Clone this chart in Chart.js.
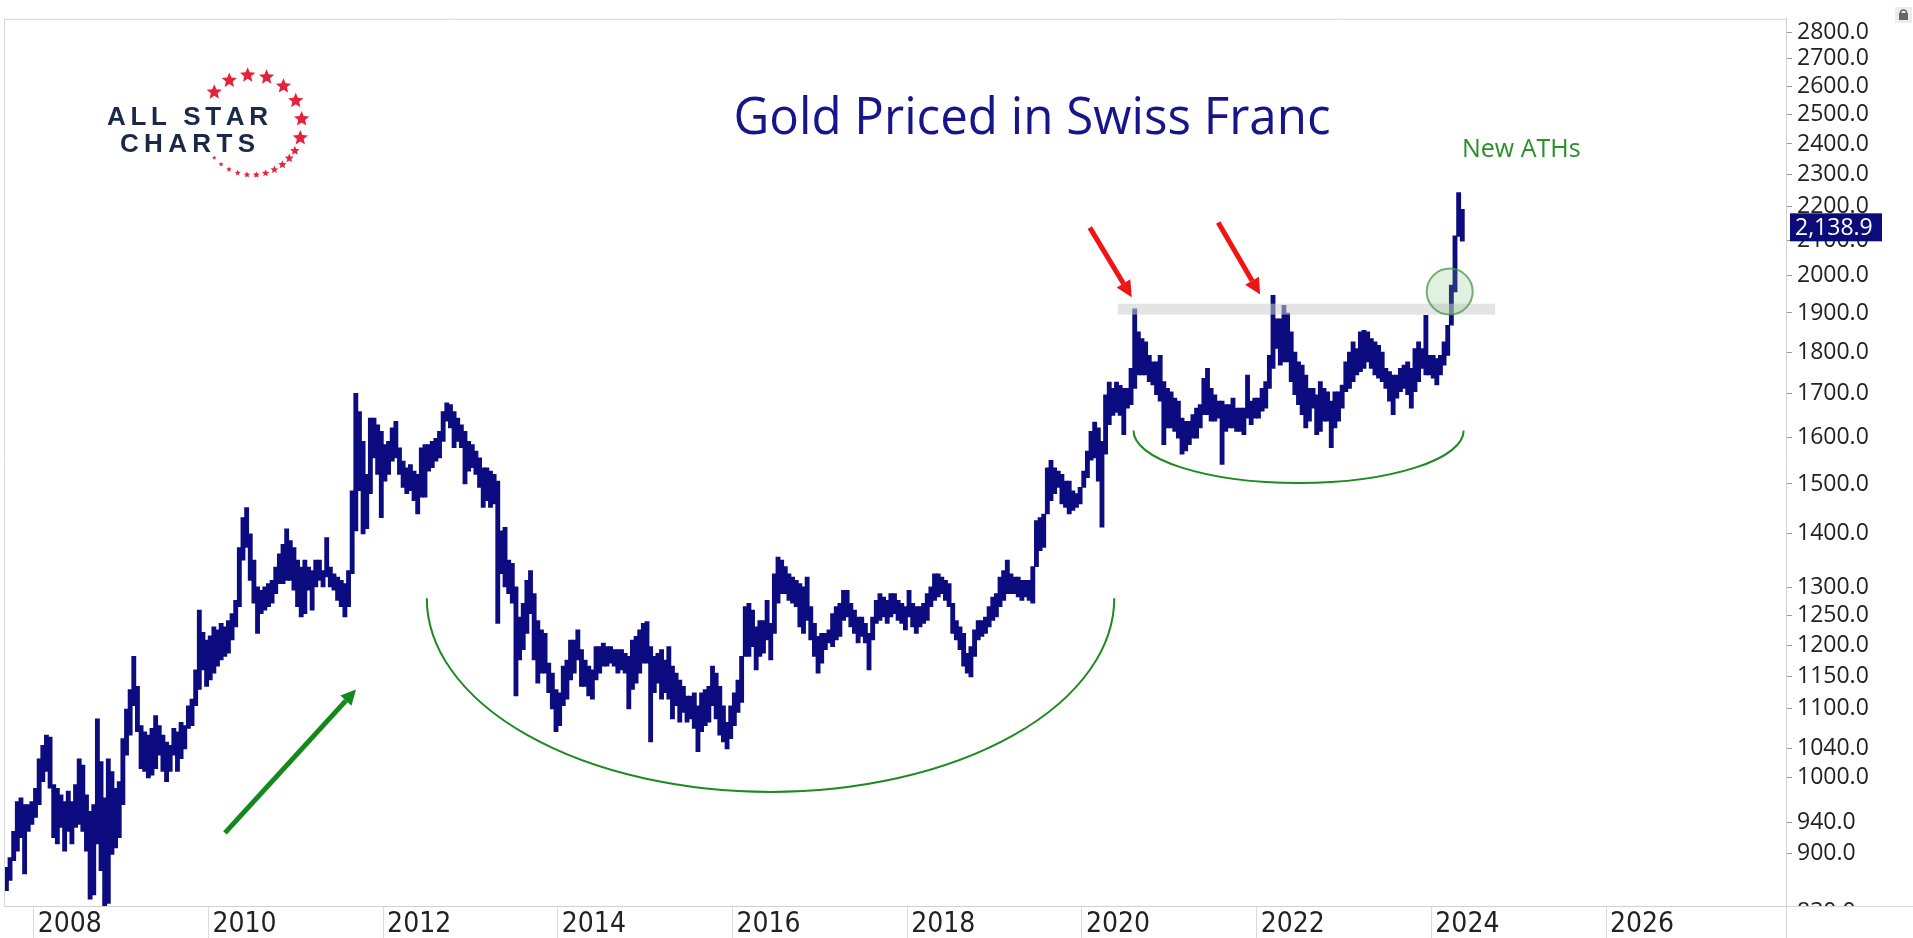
<!DOCTYPE html>
<html>
<head>
<meta charset="utf-8">
<title>Gold Priced in Swiss Franc</title>
<script src="https://cdn.jsdelivr.net/npm/chart.js@4.4.1/dist/chart.umd.min.js"></script>
<style>
  html, body { margin: 0; padding: 0; background: #fff; }
  canvas { display: block; }
</style>
</head>
<body>
<canvas id="chart" width="1913" height="938"></canvas>
<script>
// Gold in CHF, half-month trading ranges. First period = first half of Sep 2007.
const firstPeriod = { year: 2007, month: 9 };

const lows = [
  855, 867, 891, 903, 920, 875, 928, 937,                                                                                     // 2007 Sep-Dec
  946, 963, 994, 1008, 985, 920, 912, 933, 903, 928, 912, 933, 937, 928, 903, 845, 850, 912, 879, 815, 840, 899, 907, 920,     // 2008
  963, 1031, 1060, 1104, 1065, 1012, 1008, 999, 1003, 1012, 1031, 1008, 994, 1008, 1031, 1008, 1026, 1040, 1070, 1074, 1104, 1129, 1160, 1134, // 2009
  1144, 1155, 1166, 1176, 1182, 1187, 1209, 1231, 1266, 1350, 1374, 1313, 1272, 1220, 1254, 1260, 1266, 1272, 1289, 1307, 1307, 1313, 1313, 1295, // 2010
  1266, 1248, 1254, 1295, 1260, 1301, 1313, 1301, 1319, 1301, 1295, 1277, 1266, 1248, 1266, 1325, 1406, 1486, 1400, 1410, 1480, 1555, 1520, 1432, // 2011
  1506, 1520, 1548, 1555, 1520, 1493, 1480, 1486, 1466, 1439, 1473, 1473, 1527, 1534, 1548, 1555, 1591, 1636, 1621, 1577, 1591, 1577, 1500, 1527, // 2012
  1534, 1520, 1493, 1452, 1466, 1452, 1459, 1237, 1325, 1301, 1289, 1272, 1119, 1176, 1193, 1220, 1254, 1176, 1139, 1155, 1155, 1124, 1099, 1065, // 2013
  1074, 1104, 1114, 1144, 1155, 1176, 1134, 1134, 1119, 1114, 1144, 1155, 1166, 1166, 1171, 1166, 1155, 1160, 1155, 1099, 1129, 1139, 1155, 1171, // 2014
  1171, 1050, 1124, 1139, 1114, 1124, 1114, 1084, 1104, 1079, 1094, 1079, 1084, 1070, 1036, 1065, 1074, 1079, 1104, 1084, 1060, 1050, 1040, 1055, // 2015
  1074, 1094, 1109, 1182, 1182, 1198, 1160, 1182, 1187, 1209, 1176, 1220, 1272, 1289, 1289, 1277, 1272, 1266, 1231, 1220, 1242, 1209, 1182, 1155, // 2016
  1171, 1193, 1204, 1198, 1209, 1215, 1242, 1248, 1231, 1220, 1204, 1215, 1204, 1160, 1209, 1237, 1242, 1248, 1237, 1248, 1254, 1242, 1237, 1226, // 2017
  1248, 1231, 1220, 1231, 1237, 1242, 1266, 1277, 1283, 1289, 1277, 1266, 1220, 1209, 1193, 1166, 1155, 1149, 1182, 1209, 1215, 1220, 1231, 1242, // 2018
  1248, 1266, 1277, 1289, 1289, 1289, 1283, 1277, 1283, 1277, 1272, 1338, 1368, 1374, 1439, 1466, 1480, 1493, 1459, 1452, 1439, 1446, 1452, 1459, // 2019
  1493, 1513, 1550, 1555, 1506, 1413, 1563, 1628, 1649, 1656, 1649, 1606, 1666, 1674, 1712, 1744, 1744, 1744, 1728, 1720, 1697, 1682, 1584, 1621, // 2020
  1621, 1613, 1598, 1563, 1570, 1584, 1598, 1598, 1621, 1651, 1651, 1636, 1636, 1643, 1541, 1613, 1621, 1621, 1613, 1613, 1606, 1643, 1628, 1643, // 2021
  1643, 1659, 1666, 1712, 1760, 1809, 1768, 1776, 1776, 1728, 1697, 1674, 1651, 1621, 1636, 1666, 1606, 1613, 1636, 1636, 1577, 1621, 1636, 1666, // 2022
  1704, 1712, 1728, 1744, 1752, 1760, 1776, 1760, 1744, 1736, 1728, 1712, 1682, 1651, 1689, 1704, 1712, 1697, 1666, 1704, 1728, 1760, 1744, 1744, // 2023
  1736, 1720, 1744, 1768, 1792, 1868, 1956, 2112, 2098                                                                        // 2024 Jan-May
];

const highs = [
  883, 895, 928, 967, 972, 963, 963, 967,                                                                                     // 2007 Sep-Dec
  985, 1026, 1045, 1060, 1057, 990, 985, 976, 967, 981, 967, 990, 1026, 1017, 976, 954, 963, 1084, 1022, 972, 1026, 1008, 985, 994, // 2008
  1055, 1099, 1129, 1182, 1134, 1074, 1065, 1060, 1070, 1089, 1074, 1060, 1050, 1045, 1070, 1065, 1079, 1074, 1104, 1114, 1160, 1260, 1222, 1209, // 2009
  1216, 1231, 1226, 1237, 1231, 1242, 1254, 1277, 1374, 1432, 1452, 1400, 1350, 1301, 1295, 1301, 1307, 1313, 1337, 1362, 1380, 1410, 1387, 1374, // 2010
  1350, 1337, 1350, 1337, 1331, 1350, 1350, 1331, 1393, 1337, 1325, 1319, 1313, 1307, 1331, 1486, 1700, 1658, 1591, 1520, 1643, 1643, 1628, 1613, // 2011
  1584, 1591, 1621, 1636, 1577, 1548, 1534, 1541, 1527, 1520, 1577, 1584, 1584, 1591, 1598, 1613, 1658, 1678, 1674, 1658, 1643, 1628, 1613, 1591, // 2012
  1584, 1570, 1555, 1534, 1534, 1527, 1520, 1506, 1406, 1413, 1350, 1344, 1301, 1248, 1272, 1313, 1331, 1289, 1242, 1226, 1220, 1171, 1155, 1129, // 2013
  1124, 1166, 1176, 1209, 1209, 1226, 1193, 1176, 1166, 1160, 1198, 1198, 1204, 1198, 1198, 1193, 1193, 1193, 1187, 1182, 1209, 1215, 1226, 1237, // 2014
  1240, 1198, 1182, 1187, 1193, 1176, 1198, 1166, 1155, 1144, 1134, 1119, 1119, 1124, 1104, 1124, 1129, 1134, 1166, 1155, 1134, 1104, 1079, 1104, // 2015
  1124, 1144, 1182, 1266, 1272, 1260, 1231, 1242, 1242, 1277, 1237, 1325, 1356, 1350, 1338, 1325, 1319, 1313, 1307, 1301, 1319, 1266, 1237, 1215, // 2016
  1220, 1220, 1226, 1254, 1266, 1272, 1295, 1295, 1272, 1260, 1248, 1248, 1237, 1220, 1248, 1277, 1289, 1283, 1277, 1289, 1289, 1277, 1272, 1266, // 2017
  1295, 1272, 1266, 1266, 1272, 1289, 1301, 1325, 1325, 1319, 1313, 1307, 1272, 1242, 1231, 1220, 1187, 1198, 1226, 1242, 1242, 1248, 1266, 1283, // 2018
  1289, 1319, 1331, 1350, 1325, 1319, 1319, 1313, 1313, 1313, 1338, 1426, 1432, 1439, 1534, 1550, 1534, 1527, 1520, 1506, 1506, 1486, 1480, 1493, // 2019
  1527, 1570, 1613, 1634, 1621, 1591, 1697, 1727, 1712, 1727, 1719, 1712, 1712, 1760, 1911, 1851, 1834, 1826, 1792, 1776, 1776, 1792, 1728, 1712, // 2020
  1704, 1689, 1682, 1643, 1636, 1636, 1651, 1666, 1674, 1736, 1760, 1712, 1697, 1682, 1682, 1674, 1674, 1689, 1666, 1666, 1666, 1744, 1682, 1689, // 2021
  1689, 1712, 1728, 1792, 1947, 1885, 1885, 1920, 1900, 1851, 1800, 1776, 1768, 1744, 1712, 1712, 1697, 1728, 1712, 1704, 1682, 1704, 1704, 1720, // 2022
  1776, 1800, 1826, 1809, 1851, 1855, 1851, 1834, 1826, 1817, 1800, 1760, 1752, 1744, 1744, 1760, 1768, 1776, 1760, 1809, 1826, 1809, 1894, 1792, // 2023
  1792, 1784, 1792, 1826, 1868, 1975, 2114, 2244, 2193                                                                        // 2024 Jan-May
];

const lastClose = 2138.9;

const yearTicks = [2008, 2010, 2012, 2014, 2016, 2018, 2020, 2022, 2024, 2026];
const priceTicks = [900, 940, 1000, 1040, 1100, 1150, 1200, 1250, 1300, 1400, 1500, 1600, 1700,
                    1800, 1900, 2000, 2100, 2200, 2300, 2400, 2500, 2600, 2700, 2800];

// drawn markup, in [year, price]
const resistance = { level: 1910, from: 2020.41, to: 2024.73 };
const redArrows = [
  { from: [2020.09, 2138], to: [2020.57, 1942] },
  { from: [2021.56, 2153], to: [2022.04, 1949] }
];
const trendArrow = { from: [2010.19, 926], to: [2011.69, 1129] };
const cups = [
  { from: 2012.50, to: 2020.37, rim: 1281, bottom: 980 },
  { from: 2020.59, to: 2024.37, rim: 1615, bottom: 1502 }
];
const breakout = { x: 2024.21, price: 1957, radius: 23 };

// period midpoints as decimal years
const periodStart = firstPeriod.year + (firstPeriod.month - 1) / 12;
const bars = lows.map((lo, i) => ({ x: periodStart + (i + 0.5) / 24, y: [lo, highs[i]] }));

const NAVY = '#0c0c80';
const TICK_FONT = '"Open Sans", "DejaVu Sans", sans-serif';

function drawArrow(ctx, x1, y1, x2, y2, color, width, head) {
  const a = Math.atan2(y2 - y1, x2 - x1);
  const bx = x2 - head * Math.cos(a);
  const by = y2 - head * Math.sin(a);
  ctx.strokeStyle = color;
  ctx.lineWidth = width;
  ctx.lineCap = 'butt';
  ctx.beginPath();
  ctx.moveTo(x1, y1);
  ctx.lineTo(bx, by);
  ctx.stroke();
  const hw = head * 0.5;
  ctx.fillStyle = color;
  ctx.beginPath();
  ctx.moveTo(x2, y2);
  ctx.lineTo(bx + hw * Math.sin(a), by - hw * Math.cos(a));
  ctx.lineTo(bx - hw * Math.sin(a), by + hw * Math.cos(a));
  ctx.closePath();
  ctx.fill();
}

function drawStar(ctx, cx, cy, r) {
  ctx.beginPath();
  for (let k = 0; k < 10; k++) {
    const rr = k % 2 ? r * 0.45 : r;
    const a = -Math.PI / 2 + k * Math.PI / 5;
    ctx.lineTo(cx + rr * Math.cos(a), cy + rr * Math.sin(a));
  }
  ctx.closePath();
  ctx.fill();
}

function spacedText(ctx, text, left, right, baseline) {
  const chars = [...text];
  const widths = chars.map(c => ctx.measureText(c).width);
  const gap = (right - left - widths.reduce((a, b) => a + b, 0)) / (chars.length - 1);
  let x = left;
  chars.forEach((c, k) => { ctx.fillText(c, x, baseline); x += widths[k] + gap; });
}

function drawLogo(ctx) {
  ctx.save();
  ctx.fillStyle = '#1b2948';
  ctx.font = 'bold 26px "Liberation Sans", Arial, sans-serif';
  ctx.textBaseline = 'alphabetic';
  spacedText(ctx, 'ALL STAR', 107, 268, 125);
  spacedText(ctx, 'CHARTS', 120, 255, 152);

  ctx.fillStyle = '#e5223a';
  const cx = 252, cy = 125, R = 50;
  for (let k = 0; k < 8; k++) {
    const a = (-139 + k * 22) * Math.PI / 180;
    drawStar(ctx, cx + R * Math.cos(a), cy + R * Math.sin(a), 8);
  }
  for (let k = 0; k < 11; k++) {
    const a = (31 + k * 10.8) * Math.PI / 180;
    drawStar(ctx, cx + R * Math.cos(a), cy + R * Math.sin(a), 5 - k * 0.27);
  }
  ctx.restore();
}

const markup = {
  id: 'markup',
  afterDatasetsDraw(chart) {
    const { ctx, chartArea: area, scales: { x, y } } = chart;
    const px = v => x.getPixelForValue(v);
    const py = v => y.getPixelForValue(v);
    ctx.save();
    ctx.beginPath();
    ctx.rect(area.left, area.top, area.width, area.height);
    ctx.clip();

    // resistance band
    ctx.fillStyle = 'rgba(205, 205, 205, 0.55)';
    ctx.fillRect(px(resistance.from), py(resistance.level) - 5.5, px(resistance.to) - px(resistance.from), 11);

    // breakout circle
    ctx.beginPath();
    ctx.arc(px(breakout.x), py(breakout.price), breakout.radius, 0, Math.PI * 2);
    ctx.fillStyle = 'rgba(120, 190, 120, 0.22)';
    ctx.fill();
    ctx.strokeStyle = 'rgba(70, 150, 70, 0.75)';
    ctx.lineWidth = 2;
    ctx.stroke();

    // cup outlines
    ctx.strokeStyle = '#1f8a1f';
    ctx.lineWidth = 2;
    cups.forEach(c => {
      const l = px(c.from), r = px(c.to);
      const top = py(c.rim), bot = py(c.bottom);
      ctx.beginPath();
      ctx.ellipse((l + r) / 2, top, (r - l) / 2, bot - top, 0, 0, Math.PI);
      ctx.stroke();
    });

    redArrows.forEach(a => drawArrow(ctx, px(a.from[0]), py(a.from[1]), px(a.to[0]), py(a.to[1]), '#f01414', 5, 16));
    drawArrow(ctx, px(trendArrow.from[0]), py(trendArrow.from[1]), px(trendArrow.to[0]), py(trendArrow.to[1]), '#12891a', 5, 15);
    ctx.restore();
  },
  afterDraw(chart) {
    const { ctx, chartArea: area, scales: { y } } = chart;
    ctx.save();

    // frame pieces outside the two scales
    ctx.strokeStyle = '#d6d6d6';
    ctx.lineWidth = 1;
    ctx.beginPath();
    ctx.moveTo(area.left + 0.5, area.top); ctx.lineTo(area.left + 0.5, area.bottom);
    ctx.moveTo(area.left, area.top + 0.5); ctx.lineTo(area.right, area.top + 0.5);
    ctx.moveTo(area.right, area.bottom + 0.5); ctx.lineTo(chart.width, area.bottom + 0.5);
    ctx.moveTo(area.right + 0.5, area.bottom); ctx.lineTo(area.right + 0.5, chart.height);
    ctx.stroke();

    // next tick below the visible range, cut by the axis
    ctx.save();
    ctx.beginPath();
    ctx.rect(area.right, 0, chart.width - area.right, area.bottom);
    ctx.clip();
    ctx.fillStyle = '#222';
    ctx.font = '23px ' + TICK_FONT;
    ctx.textBaseline = 'middle';
    ctx.fillText((830).toFixed(1), area.right + 11, y.getPixelForValue(830));
    ctx.restore();

    // last price tag
    const ty = y.getPixelForValue(lastClose);
    ctx.fillStyle = '#0b0b7a';
    ctx.fillRect(area.right + 4, ty - 14, 92, 28);
    ctx.fillStyle = '#fff';
    ctx.font = '23px ' + TICK_FONT;
    ctx.textBaseline = 'middle';
    ctx.fillText(lastClose.toLocaleString('en-US', { minimumFractionDigits: 1 }), area.right + 9, ty + 1);

    // title
    const title = 'Gold Priced in Swiss Franc';
    ctx.font = '52px "Open Sans", sans-serif';
    ctx.textBaseline = 'alphabetic';
    ctx.textAlign = 'center';
    const tw = ctx.measureText(title).width;
    ctx.save();
    ctx.translate(1032, 134);
    ctx.scale(597 / tw, 1);
    ctx.fillStyle = '#16168a';
    ctx.fillText(title, 0, 0);
    ctx.restore();

    ctx.textAlign = 'left';
    ctx.font = '25px "Open Sans", sans-serif';
    ctx.fillStyle = '#289128';
    ctx.fillText('New ATHs', 1462, 157);

    drawLogo(ctx);

    // lock button, top right
    ctx.fillStyle = '#ececec';
    ctx.fillRect(1895, 7, 17, 16);
    ctx.strokeStyle = '#666';
    ctx.lineWidth = 1.6;
    ctx.beginPath();
    ctx.arc(1903.5, 13, 3, Math.PI, 0);
    ctx.stroke();
    ctx.fillStyle = '#666';
    ctx.fillRect(1899, 13, 9, 7);

    ctx.restore();
  }
};

new Chart(document.getElementById('chart'), {
  type: 'bar',
  data: {
    datasets: [{
      data: bars,
      backgroundColor: NAVY,
      borderWidth: 0,
      barThickness: 4.2,
      borderSkipped: false
    }]
  },
  options: {
    responsive: false,
    animation: false,
    events: [],
    layout: { padding: { left: 4, top: 7, right: 0, bottom: 0 } },
    plugins: { legend: { display: false }, tooltip: { enabled: false } },
    scales: {
      x: {
        type: 'linear',
        position: 'bottom',
        offset: false,
        min: 2007.66,
        max: 2028.06,
        afterBuildTicks: s => { s.ticks = yearTicks.map(v => ({ value: v })); },
        afterFit: s => { s.height = 32; },
        grid: { offset: false, drawOnChartArea: false, drawTicks: true, tickLength: 32, color: '#dcdcdc' },
        border: { color: '#d0d0d0' },
        ticks: {
          align: 'start',
          labelOffset: 4,
          padding: -30,
          maxRotation: 0,
          autoSkip: false,
          color: '#222',
          font: { family: '"Liberation Sans Narrow", "DejaVu Sans Condensed", sans-serif', size: 28 },
          callback: v => String(v)
        }
      },
      y: {
        type: 'logarithmic',
        position: 'right',
        min: 837,
        max: 2853.5,
        afterBuildTicks: s => { s.ticks = priceTicks.map(v => ({ value: v })); },
        afterFit: s => { s.width = 127; },
        grid: { drawOnChartArea: false, tickLength: 6, color: '#999' },
        border: { color: '#d0d0d0' },
        ticks: {
          padding: 5,
          autoSkip: false,
          color: '#222',
          font: { family: TICK_FONT, size: 23 },
          callback: v => Number(v).toFixed(1)
        }
      }
    }
  },
  plugins: [markup]
});
</script>
</body>
</html>
